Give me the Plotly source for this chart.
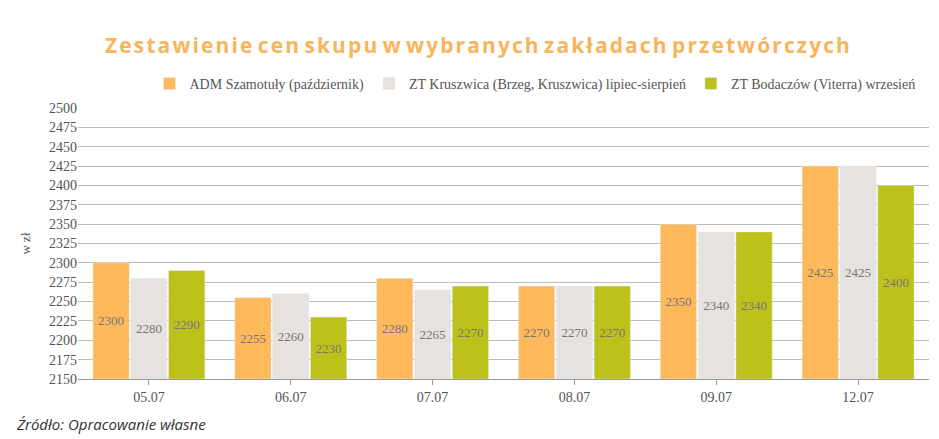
import plotly.graph_objects as go

dates = ["05.07", "06.07", "07.07", "08.07", "09.07", "12.07"]
adm = [2300, 2255, 2280, 2270, 2350, 2425]
kruszwica = [2280, 2260, 2265, 2270, 2340, 2425]
bodaczow = [2290, 2230, 2270, 2270, 2340, 2400]

series = [
    ("ADM Szamotuły (październik)", adm, "#FDB95C"),
    ("ZT Kruszwica (Brzeg, Kruszwica) lipiec-sierpień", kruszwica, "#E5E2DF"),
    ("ZT Bodaczów (Viterra) wrzesień", bodaczow, "#BDC11B"),
]

fig = go.Figure()
for name, vals, color in series:
    fig.add_trace(go.Bar(
        x=dates, y=[v - 2150 for v in vals], base=2150, name=name,
        marker_color=color, text=[str(v) for v in vals],
        textposition="inside", insidetextanchor="middle", textangle=0,
        textfont=dict(family="Liberation Serif", size=13, color="#777777"),
    ))

fig.update_layout(
    width=939, height=439,
    paper_bgcolor="white", plot_bgcolor="white",
    margin=dict(l=70, r=18, t=100, b=68),
    barmode="group", bargap=0.2, bargroupgap=0.04,
    font=dict(family="Liberation Serif", color="#555555", size=13),
    title=dict(text="<b>Z e s t a w i e n i e  c e n  s k u p u  w  w y b r a n y c h  z a k ł a d a c h  p r z e t w ó r c z y c h</b>".replace(" ", "\u200a").replace("\u200a\u200a", " "),
               x=0.5, xanchor="center", y=0.93,
               font=dict(family="Open Sans", size=21, color="#F9B55A")),
    legend=dict(orientation="h", x=0.99, xanchor="right", y=1.03, yanchor="bottom",
                font=dict(size=14, color="#555555"), itemwidth=30),
    showlegend=True,
)
fig.update_yaxes(range=[2150, 2500], dtick=25, gridcolor="#BBBBBB",
                 title=dict(text="w zł", font=dict(size=13)), ticks="",
                 tickfont=dict(size=14))
fig.update_xaxes(showline=True, linecolor="#999999", ticks="outside",
                 tickcolor="#999999", tickfont=dict(size=14))
fig.add_annotation(text="<i>Źródło: Opracowanie własne</i>", xref="paper", yref="paper",
                   x=-0.075, y=-0.21, xanchor="left", showarrow=False,
                   font=dict(family="Open Sans", size=15, color="#333333"))

fig.write_html("out.html")
